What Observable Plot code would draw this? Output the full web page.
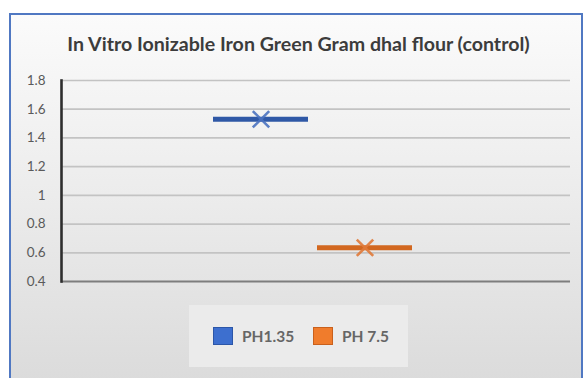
<!DOCTYPE html>
<html>
<head>
<meta charset="utf-8">
<script src="https://cdn.jsdelivr.net/npm/d3@7"></script>
<script src="https://cdn.jsdelivr.net/npm/@observablehq/plot@0.6"></script>
<style>
html, body { margin: 0; padding: 0; background: #ffffff; width: 587px; height: 378px; overflow: hidden; }
#frame { position: absolute; left: 9px; top: 13px; width: 570px; height: 400px;
  border: 2px solid #5078c2; border-bottom: none;
  background: linear-gradient(to bottom, #fbfbfb 0%, #ececec 45%, #d8d8d8 100%); }
#title { position: absolute; left: 0; top: 33px; width: 597px; text-align: center;
  font-family: Lato, "Open Sans", sans-serif; font-weight: bold; font-size: 19.6px; color: #3c3c3c;
  line-height: 22px; white-space: nowrap; }
#chart { position: absolute; left: 0; top: 0; }
#legend { position: absolute; left: 189px; top: 305px; width: 219px; height: 62px;
  background: #ebebeb; }
.item { position: absolute; top: 22px; display: flex; align-items: center;
  font-family: Lato, sans-serif; font-weight: bold; font-size: 15.5px; color: #666; }
.sw { width: 20px; height: 18px; margin-right: 9px; box-sizing: border-box; }
</style>
</head>
<body>
<div id="frame"></div>
<div id="title"></div>
<div id="chart"></div>
<div id="legend"></div>
<script>
// ---- data ----
const title = "In Vitro Ionizable Iron Green Gram dhal flour (control)";
const series = ["PH1.35", "PH 7.5"];
const values = [1.53, 0.635];
const yTicks = [0.4, 0.6, 0.8, 1, 1.2, 1.4, 1.6, 1.8];
const yTickLabels = ["0.4", "0.6", "0.8", "1", "1.2", "1.4", "1.6", "1.8"];
const lineColors = ["#2f58a6", "#d2671f"];
const markColors = ["#4a72c0", "#e07a3a"];
const swatchFill = ["#3d6fcf", "#f07c2c"];
const swatchStroke = ["#2c56a8", "#c9601c"];

const data = series.map((s, i) => ({series: s, value: values[i]}));

document.getElementById("title").textContent = title;

const fmt = d => yTickLabels[yTicks.indexOf(d)];

const plot = Plot.plot({
  width: 587,
  height: 378,
  marginLeft: 61,
  marginRight: 17,
  marginTop: 80,
  marginBottom: 97,
  style: {background: "transparent", fontFamily: "Lato, sans-serif", fontSize: "13.5px", color: "#5a5a5a"},
  x: {domain: series, range: [213, 412], paddingInner: 0.09, paddingOuter: 0, axis: null},
  y: {domain: [0.4, 1.8], ticks: yTicks, tickFormat: fmt, label: null},
  color: {domain: series, range: lineColors},
  marks: [
    Plot.ruleY(yTicks.filter(t => t > 0.4), {stroke: "#c3c3c3", strokeWidth: 1.7}),
    Plot.ruleY([0.4], {stroke: "#7d7d7d", strokeWidth: 2}),
    Plot.frame({anchor: "left", stroke: "#2e2e2e", strokeWidth: 2.6}),
    Plot.axisY({ticks: yTicks, tickFormat: fmt, tickSize: 0, tickPadding: 16, fill: "#5a5a5a", label: null}),
    Plot.tickY(data, {x: "series", y: "value", stroke: "series", strokeWidth: 5, strokeLinecap: "butt"}),
    Plot.dot(data, {x: "series", y: "value", symbol: "times", r: 7.5, strokeWidth: 2.6,
      stroke: (d) => markColors[series.indexOf(d.series)], strokeOpacity: 0.9})
  ]
});
document.getElementById("chart").appendChild(plot);

// legend
const legend = document.getElementById("legend");
const lefts = [24, 124];
series.forEach((s, i) => {
  const it = document.createElement("div");
  it.className = "item";
  it.style.left = lefts[i] + "px";
  const sw = document.createElement("div");
  sw.className = "sw";
  sw.style.background = swatchFill[i];
  sw.style.border = "1.5px solid " + swatchStroke[i];
  const tx = document.createElement("span");
  tx.textContent = s;
  it.appendChild(sw); it.appendChild(tx);
  legend.appendChild(it);
});
</script>
</body>
</html>
